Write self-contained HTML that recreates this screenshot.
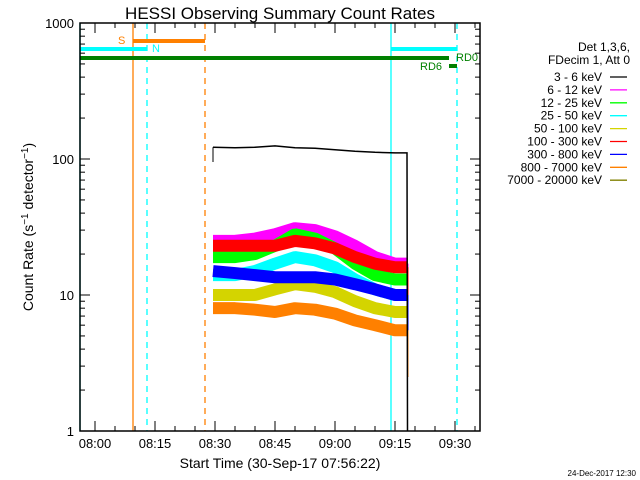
<!DOCTYPE html>
<html><head><meta charset="utf-8"><style>
body{margin:0;background:#fff;}
svg{display:block;font-family:"Liberation Sans",sans-serif;}
</style></head><body>
<svg id="c" width="640" height="480" viewBox="0 0 640 480">
<text x="280" y="19" font-size="17" text-anchor="middle">HESSI Observing Summary Count Rates</text>
<g id="plot"></g>
<text x="280" y="468" font-size="14" text-anchor="middle">Start Time (30-Sep-17 07:56:22)</text>
<text transform="translate(33,227) rotate(-90)" font-size="14" text-anchor="middle">Count Rate (s<tspan baseline-shift="super" font-size="10">−1</tspan> detector<tspan baseline-shift="super" font-size="10">−1</tspan>)</text>
<text x="636" y="476" font-size="8" text-anchor="end">24-Dec-2017 12:30</text>
<g id="legend"></g>
</svg>
<script>
// minutes after 08:00
const times = [29.5, 35, 40, 45, 50, 55, 60, 65, 70, 75, 78];
const s3_6 = [122, 121, 122, 125, 121, 120, 117, 114, 112, 111, 111];
const s6_12 = [25, 25, 26, 28, 31, 30, 27, 23, 19, 17, 17];
const s12_25 = [19, 19, 20, 23, 28, 26, 22, 17, 14, 13, 13];
const s25_50 = [14, 14, 15, 17, 19, 18, 16, 13, 11, 10, 10];
const s50_100 = [10, 10, 10, 11, 12, 11.5, 10.5, 9, 8, 7.5, 7.5];
const s100_300 = [23, 23, 23, 23, 25, 24, 22, 19, 17, 16, 16];
const s300_800 = [15, 14.5, 14, 13.5, 13.5, 13.5, 13, 12, 11, 10, 10];
const s800_7000 = [8, 8, 7.8, 7.5, 8, 7.8, 7.3, 6.5, 6, 5.5, 5.5];
const legendLabels = ["3 - 6 keV","6 - 12 keV","12 - 25 keV","25 - 50 keV","50 - 100 keV","100 - 300 keV","300 - 800 keV","800 - 7000 keV","7000 - 20000 keV"];
const legendColors = ["#000","#ff00ff","#00ff00","#00ffff","#d4d400","#ff0000","#0000ff","#ff8000","#808000"];
const xTickLabels = ["08:00","08:15","08:30","08:45","09:00","09:15","09:30"];
const xTickMins = [0,15,30,45,60,75,90];
const yTickLabels = ["1","10","100","1000"];
const yTickVals = [1,10,100,1000];

const L=80,R=480,T=23,B=431;
const X=m=>95+4*m;
const Y=v=>B-(B-T)*Math.log10(v)/3;
const NS="http://www.w3.org/2000/svg";
const plot=document.getElementById('plot');
function mk(tag,attrs,parent){const e=document.createElementNS(NS,tag);for(const k in attrs)e.setAttribute(k,attrs[k]);(parent||plot).appendChild(e);return e;}

// vertical markers
const vl=[[80,'#00ffff',''],[133,'#ff8000',''],[147,'#00ffff','6,5'],[205,'#ff8000','6,5'],[391,'#00ffff',''],[457,'#00ffff','6,5']];
vl.forEach(v=>{const e=mk('line',{x1:v[0],x2:v[0],y1:T,y2:B,stroke:v[1],'stroke-width':1.3,'stroke-dasharray':v[2]});

});

// status bars
function bar(x1,x2,y,c,w,name){const e=mk('line',{x1:x1,x2:x2,y1:y,y2:y,stroke:c,'stroke-width':w});

}
bar(133,205,41,'#ff8000',4,'saa-bar');
bar(80,147,49,'#00ffff',4,'night-bar-left');
bar(391,457,49,'#00ffff',4,'night-bar-right');
bar(80,449,58,'#008000',4,'rd0-bar');
bar(449,457,66,'#008000',4,'rd6-bar');
function lab(x,y,t,c,name,anchor){const e=mk('text',{x:x,y:y,fill:c,'font-size':11,'text-anchor':anchor||'start'});e.textContent=t;

}
lab(118,44,'S','#ff8000','saa-label');
lab(152,52,'N','#00ffff','night-label');
lab(456,61,'RD0','#008000','rd0-label');
lab(420,70,'RD6','#008000','rd6-label');

// series
const series=[[s6_12,'#ff00ff',1],[s12_25,'#00ff00',2],[s25_50,'#00ffff',3],[s50_100,'#d4d400',4],[s100_300,'#ff0000',5],[s300_800,'#0000ff',6],[s800_7000,'#ff8000',7]];
series.forEach(s=>{const arr=s[0];const col=s[1];
const pts=times.map((t,j)=>X(t)+','+Y(arr[j])).join(' ');
const e=mk('polyline',{points:pts,fill:'none',stroke:col,'stroke-width':12,'stroke-linejoin':'bevel','stroke-linecap':'butt'});


const xe=X(times[times.length-1])+1;
const d=mk('line',{x1:xe,x2:xe,y1:Y(arr[arr.length-1]),y2:Y(2.5),stroke:col,'stroke-width':1});

});
{const pts=times.map((t,j)=>X(t)+','+Y(s3_6[j])).join(' ');
const e=mk('polyline',{points:pts+' '+(X(times[times.length-1])+0.5)+','+B,fill:'none',stroke:'#000','stroke-width':1.5});


const s=mk('line',{x1:X(times[0]),x2:X(times[0]),y1:Y(s3_6[0]),y2:Y(95),stroke:'#000','stroke-width':1});

}

// axes frame
const fr=mk('rect',{x:L,y:T,width:R-L,height:B-T,fill:'none',stroke:'#000','stroke-width':1.5});


// x ticks
for(let m=-5;m<=95;m+=5){const x=X(m);if(x<L||x>R)continue;const major=m%15===0;const len=major?10:5;
mk('line',{x1:x,x2:x,y1:B,y2:B-len,stroke:'#000'});mk('line',{x1:x,x2:x,y1:T,y2:T+len,stroke:'#000'});}
xTickLabels.forEach((t,i)=>{const e=mk('text',{x:X(xTickMins[i]),y:B+17,'font-size':13,'text-anchor':'middle'});e.textContent=t;

});
// y ticks
for(let d=0;d<3;d++)for(let k=1;k<=10;k++){const v=Math.pow(10,d)*k;const y=Y(v);const len=(k===1||k===10)?10:5;
mk('line',{x1:L,x2:L+len,y1:y,y2:y,stroke:'#000'});mk('line',{x1:R,x2:R-len,y1:y,y2:y,stroke:'#000'});}
yTickLabels.forEach((t,i)=>{const e=mk('text',{x:L-6,y:Y(yTickVals[i])+5,'font-size':13,'text-anchor':'end'});e.textContent=t;

});

// legend
const lg=document.getElementById('legend');
function lt(y,t){const e=mk('text',{x:630,y:y,'font-size':12,'text-anchor':'end'},lg);e.textContent=t;

}
lt(51,'Det 1,3,6,');lt(64,'FDecim 1, Att 0');
legendLabels.forEach((t,i)=>{const y=77+i*12.9;
const e=mk('text',{x:602,y:y+4,'font-size':12,'text-anchor':'end'},lg);e.textContent=t;


const l=mk('line',{x1:610,x2:627,y1:y,y2:y,stroke:legendColors[i],'stroke-width':1.3},lg);

});
</script>
</body></html>
